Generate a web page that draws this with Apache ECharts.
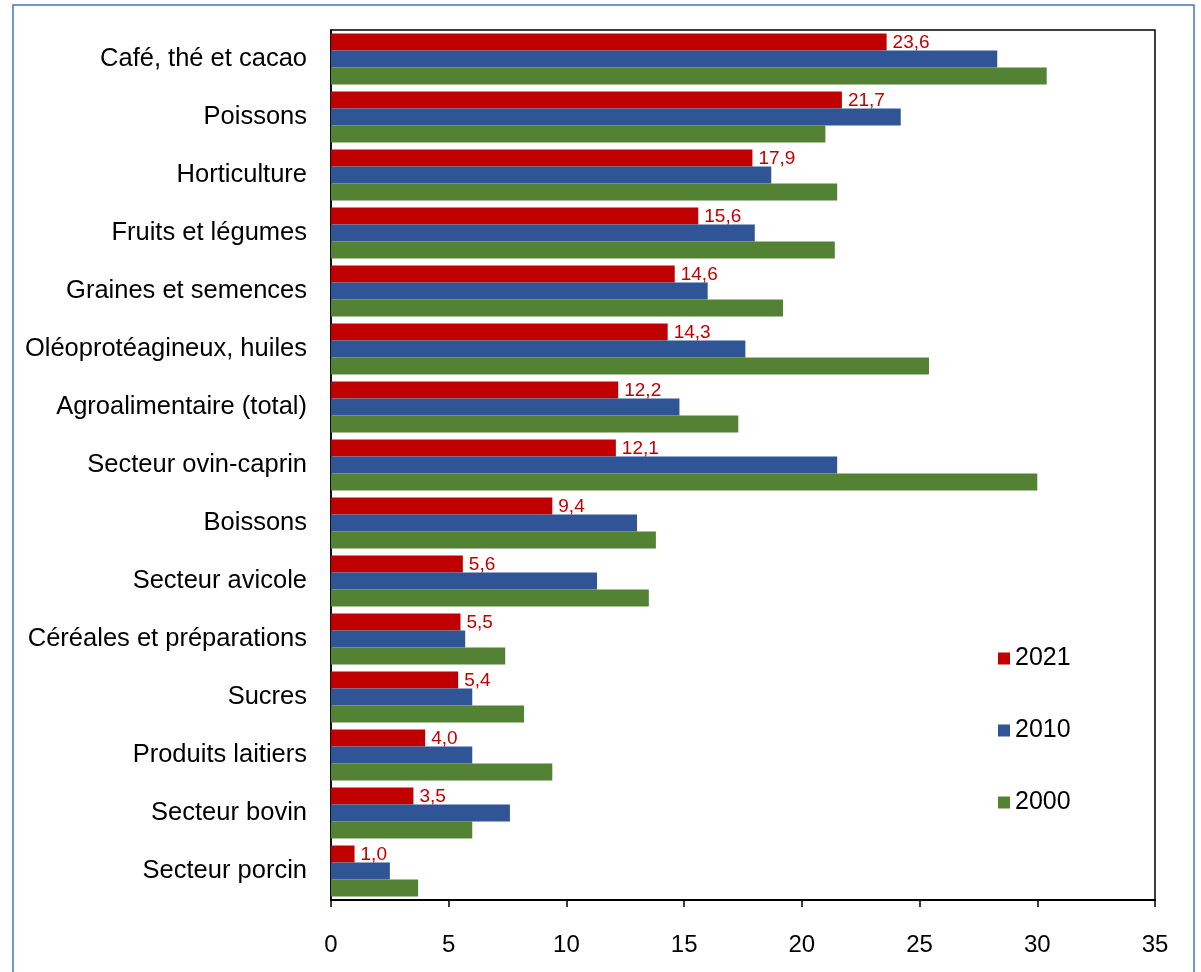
<!DOCTYPE html>
<html><head><meta charset="utf-8">
<script src="https://cdn.jsdelivr.net/npm/echarts@6/dist/echarts.min.js"></script>
<style>html,body{margin:0;padding:0;background:#fff}#c{width:1201px;height:972px}</style>
</head><body><div id="c"></div>
<script>
const categories = ["Café, thé et cacao","Poissons","Horticulture","Fruits et légumes","Graines et semences","Oléoprotéagineux, huiles","Agroalimentaire (total)","Secteur ovin-caprin","Boissons","Secteur avicole","Céréales et préparations","Sucres","Produits laitiers","Secteur bovin","Secteur porcin"];
const v2021 = [23.6,21.7,17.9,15.6,14.6,14.3,12.2,12.1,9.4,5.6,5.5,5.4,4.0,3.5,1.0];
const v2010 = [28.3,24.2,18.7,18.0,16.0,17.6,14.8,21.5,13.0,11.3,5.7,6.0,6.0,7.6,2.5];
const v2000 = [30.4,21.0,21.5,21.4,19.2,25.4,17.3,30.0,13.8,13.5,7.4,8.2,9.4,6.0,3.7];
const seriesNames = ["2021","2010","2000"];
const xTicks = [0,5,10,15,20,25,30,35];

const chart = echarts.init(document.getElementById('c'), null, {renderer:'canvas'});
const font = 'Liberation Sans, Arial, sans-serif';
chart.setOption({
  animation:false,
  textStyle:{fontFamily:font},
  graphic:[{type:'rect',shape:{x:13,y:5,width:1181,height:975},style:{fill:'none',stroke:'#4472C4',lineWidth:1.5},z:-1}],
  grid:{left:331,right:46,top:30,bottom:72,show:true,borderColor:'#000',borderWidth:1.5,backgroundColor:'transparent'},
  legend:{orient:'vertical',left:993,top:641,itemWidth:12,itemHeight:12,itemGap:47,icon:'rect',
    textStyle:{fontSize:25,color:'#000',fontFamily:font,lineHeight:25},data:seriesNames},
  xAxis:{type:'value',min:xTicks[0],max:xTicks[xTicks.length-1],interval:5,
    axisLine:{show:true,lineStyle:{color:'#000',width:2}},
    axisTick:{show:true,length:7,lineStyle:{color:'#000',width:1.5}},
    axisLabel:{fontSize:24,color:'#000',margin:33,fontFamily:font},
    splitLine:{show:false}},
  yAxis:{type:'category',data:categories,inverse:true,
    axisLine:{show:true,lineStyle:{color:'#000',width:1.5}},
    axisTick:{show:false},
    axisLabel:{fontSize:25.5,color:'#000',margin:24,fontFamily:font}},
  series:[
    {name:seriesNames[0],type:'bar',data:v2021,barWidth:17,barGap:'0%',itemStyle:{color:'#C00000'},
     label:{show:true,position:'right',distance:6,offset:[0,1],color:'#C00000',fontSize:19,fontFamily:font,
       formatter:p=>p.value.toFixed(1).replace('.',',')}},
    {name:seriesNames[1],type:'bar',data:v2010,barWidth:17,barGap:'0%',itemStyle:{color:'#2F5597'}},
    {name:seriesNames[2],type:'bar',data:v2000,barWidth:17,barGap:'0%',itemStyle:{color:'#548235'}}
  ]
});
</script></body></html>
